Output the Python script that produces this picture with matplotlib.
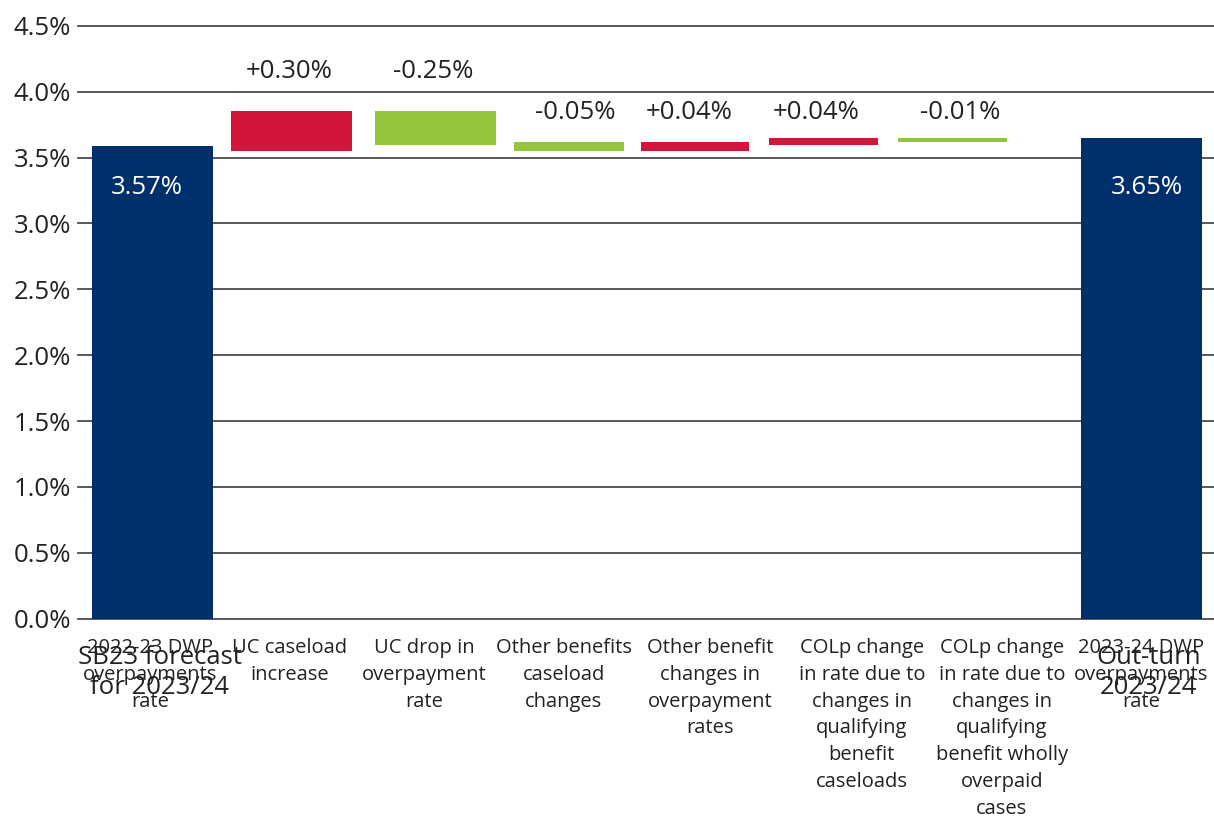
import matplotlib
matplotlib.use("Agg")
import matplotlib.pyplot as plt
from matplotlib.ticker import FuncFormatter

# ── Colours ────────────────────────────────────────────────────────────────
NAVY = "#00306B"
RED = "#D31539"
GREEN = "#93C53D"
GRID = "#4a4a4a"
TEXT = "#222222"

plt.rcParams.update({"font.family": ["Open Sans", "DejaVu Sans"], "font.size": 16})

# ── Data ───────────────────────────────────────────────────────────────────
categories = [
    "2022-23 DWP\noverpayments\nrate",
    "UC caseload\nincrease",
    "UC drop in\noverpayment\nrate",
    "Other benefits\ncaseload\nchanges",
    "Other benefit\nchanges in\noverpayment\nrates",
    "COLp change\nin rate due to\nchanges in\nqualifying\nbenefit\ncaseloads",
    "COLp change\nin rate due to\nchanges in\nqualifying\nbenefit wholly\noverpaid\ncases",
    "2023-24 DWP\noverpayments\nrate",
]
overlay_labels = ["SB23 forecast\nfor 2023/24", "Out-turn\n2023/24"]
bar_bottom = [0.0, 3.550, 3.594, 3.549, 3.549, 3.594, 3.617, 0.0]
bar_top = [3.587, 3.852, 3.852, 3.619, 3.619, 3.650, 3.650, 3.650]
bar_kind = ["total", "up", "down", "down", "up", "up", "down", "total"]
bar_text = ["3.57%", "+0.30%", "-0.25%", "-0.05%", "+0.04%", "+0.04%", "-0.01%", "3.65%"]

# ── Layout (category units) ────────────────────────────────────────────────
bar_pos = [0.0, 0.984, 2.0, 2.95, 3.84, 4.75, 5.66, 7.0]
bar_width = [0.856, 0.856, 0.856, 0.78, 0.77, 0.77, 0.77, 0.856]
text_pos = [-0.04, 0.97, 1.985, 2.99, 3.80, 4.70, 5.72, 7.04]
text_y = [3.27, 4.15, 4.15, 3.84, 3.84, 3.84, 3.84, 3.27]
tick_pos = [-0.02, 0.973, 1.921, 2.912, 3.946, 5.021, 6.012, 7.0]

colour_of = {"total": NAVY, "up": RED, "down": GREEN}

fig = plt.figure(figsize=(12.14, 8.17), dpi=100)
ax = fig.add_axes([0.0643, 0.2427, 0.9357, 0.7258])

heights = [t - b for t, b in zip(bar_top, bar_bottom)]
ax.bar(bar_pos, heights, bottom=bar_bottom, width=bar_width,
       color=[colour_of[k] for k in bar_kind], zorder=3)

for x, y, s, k in zip(text_pos, text_y, bar_text, bar_kind):
    ax.text(x, y, s, ha="center", va="center", fontsize=18.5,
            color="white" if k == "total" else TEXT, zorder=4)

ax.set_xlim(-0.527, 7.513)
ax.set_ylim(0, 4.5)
ax.set_yticks([i * 0.5 for i in range(10)])
ax.yaxis.set_major_formatter(FuncFormatter(lambda v, _: f"{v:.1f}%"))
ax.tick_params(axis="y", length=0, pad=5, labelsize=18.5, labelcolor=TEXT)
ax.grid(axis="y", color=GRID, linewidth=1.3, zorder=1)
for ln in ax.get_ygridlines():
    ln.set_clip_on(False)

ax.set_xticks(tick_pos)
ax.set_xticklabels(categories, fontsize=14.5, linespacing=1.45, color=TEXT, va="top")
ax.tick_params(axis="x", length=0, pad=14)

for i, lab in zip([0, 7], overlay_labels):
    ax.text(i + 0.05, -0.045, lab, transform=ax.get_xaxis_transform(),
            ha="center", va="top", fontsize=18.5, linespacing=1.25, color=TEXT)

for sp in ax.spines.values():
    sp.set_visible(False)

fig.savefig("out.png", dpi=100)
